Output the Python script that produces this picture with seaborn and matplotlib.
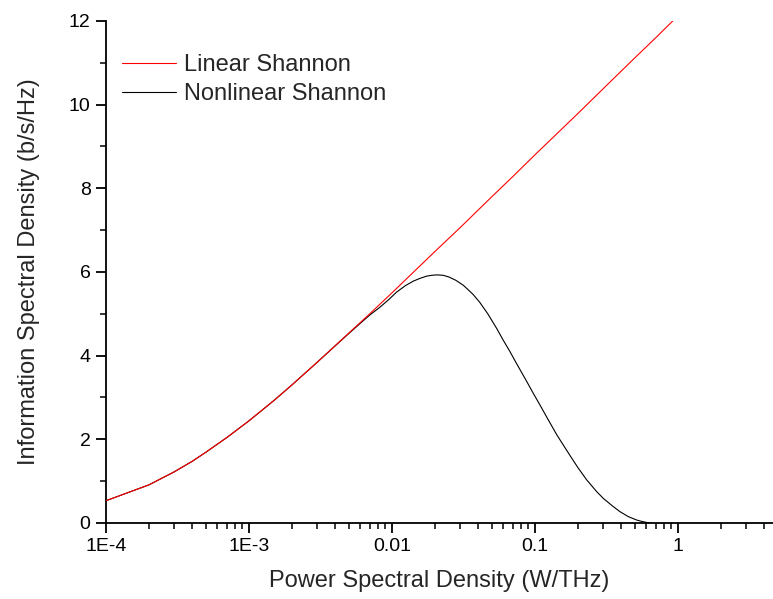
import numpy as np
import pandas as pd
import matplotlib
matplotlib.use("Agg")
import matplotlib.pyplot as plt
from matplotlib.ticker import FixedLocator, NullFormatter
import seaborn as sns

# values
lin_psd = [1e-4, 2e-4, 3e-4, 4e-4, 5e-4, 7e-4, 1e-3, 1.5e-3, 2e-3, 3e-3, 5e-3,
           7e-3, 0.01, 0.02, 0.03, 0.05, 0.07, 0.1, 0.2, 0.3, 0.5, 0.7, 0.92]
lin_isd = [0.53, 0.91, 1.22, 1.47, 1.69, 2.04, 2.44, 2.93, 3.30, 3.84, 4.54,
           5.00, 5.50, 6.49, 7.06, 7.80, 8.28, 8.80, 9.79, 10.38, 11.12, 11.60, 12.0]

nl_psd = [1e-4, 2e-4, 3e-4, 4e-4, 5e-4, 7e-4, 1e-3, 1.5e-3, 2e-3, 3e-3, 5e-3,
          6e-3, 7e-3, 0.0082, 0.0095, 0.0108, 0.0124, 0.0141, 0.0158, 0.0175,
          0.019, 0.0207, 0.0228, 0.025, 0.028, 0.0316, 0.034, 0.037, 0.0412,
          0.047, 0.054, 0.06, 0.0668, 0.073, 0.08, 0.088, 0.0973, 0.108, 0.12,
          0.131, 0.142, 0.158, 0.176, 0.2, 0.23, 0.27, 0.30, 0.35, 0.393, 0.45,
          0.514, 0.56, 0.604, 0.65]
nl_isd = [0.53, 0.91, 1.22, 1.47, 1.69, 2.04, 2.44, 2.93, 3.30, 3.84, 4.53,
          4.77, 4.97, 5.15, 5.34, 5.52, 5.67, 5.78, 5.85, 5.90,
          5.92, 5.93, 5.92, 5.88, 5.80, 5.68, 5.58, 5.46, 5.27,
          4.99, 4.65, 4.37, 4.10, 3.86, 3.62, 3.37, 3.10, 2.83, 2.55,
          2.32, 2.11, 1.86, 1.61, 1.32, 1.03, 0.75, 0.59, 0.40, 0.27, 0.15,
          0.07, 0.035, 0.012, 0.0]

x_ticks = [1e-4, 1e-3, 1e-2, 1e-1, 1]
x_tick_labels = ["1E-4", "1E-3", "0.01", "0.1", "1"]
y_ticks = [0, 2, 4, 6, 8, 10, 12]

lin_df = pd.DataFrame({"psd": lin_psd, "isd": lin_isd})
nl_df = pd.DataFrame({"psd": nl_psd, "isd": nl_isd})

sns.set_style("ticks")
plt.rcParams["font.family"] = ["Liberation Sans", "DejaVu Sans"]

fig = plt.figure(figsize=(7.73, 5.99), dpi=100)
ax = fig.add_axes([0.137, 0.127, 0.863, 0.838])

sns.lineplot(data=nl_df, x="psd", y="isd", color="black", lw=0.8,
             label="Nonlinear Shannon", ax=ax, zorder=2)
sns.lineplot(data=lin_df, x="psd", y="isd", color="#ff0000", lw=0.8,
             label="Linear Shannon", ax=ax, zorder=3)

ax.set_xscale("log")
ax.set_xlim(1e-4, 4.62)
ax.set_ylim(0, 12)

ax.xaxis.set_major_locator(FixedLocator(x_ticks))
ax.set_xticklabels(x_tick_labels)
minors = [m * 10.0**e for e in range(-4, 1) for m in range(2, 10)]
ax.xaxis.set_minor_locator(FixedLocator(minors))
ax.xaxis.set_minor_formatter(NullFormatter())
ax.set_yticks(y_ticks)
ax.set_yticks([1, 3, 5, 7, 9, 11], minor=True)

ax.tick_params(which="major", direction="out", length=7, width=1.3,
               labelsize=14, colors="black", pad=4)
ax.tick_params(which="minor", direction="out", length=4, width=1.3)
for s in ["top", "right"]:
    ax.spines[s].set_visible(False)
for s in ["left", "bottom"]:
    ax.spines[s].set_linewidth(1.3)
    ax.spines[s].set_color("black")

ax.set_xlabel("Power Spectral Density (W/THz)", fontsize=17, labelpad=11)
ax.set_ylabel("Information Spectral Density (b/s/Hz)", fontsize=17, labelpad=21)

handles, labels = ax.get_legend_handles_labels()
order = [labels.index("Linear Shannon"), labels.index("Nonlinear Shannon")]
ax.legend([handles[i] for i in order], [labels[i] for i in order],
          loc="upper left", bbox_to_anchor=(0.158, 0.91),
          bbox_transform=fig.transFigure, frameon=False, fontsize=17,
          handlelength=2.3, handletextpad=0.3, labelspacing=0.3,
          borderpad=0, borderaxespad=0)

plt.savefig("out.png", dpi=100)
